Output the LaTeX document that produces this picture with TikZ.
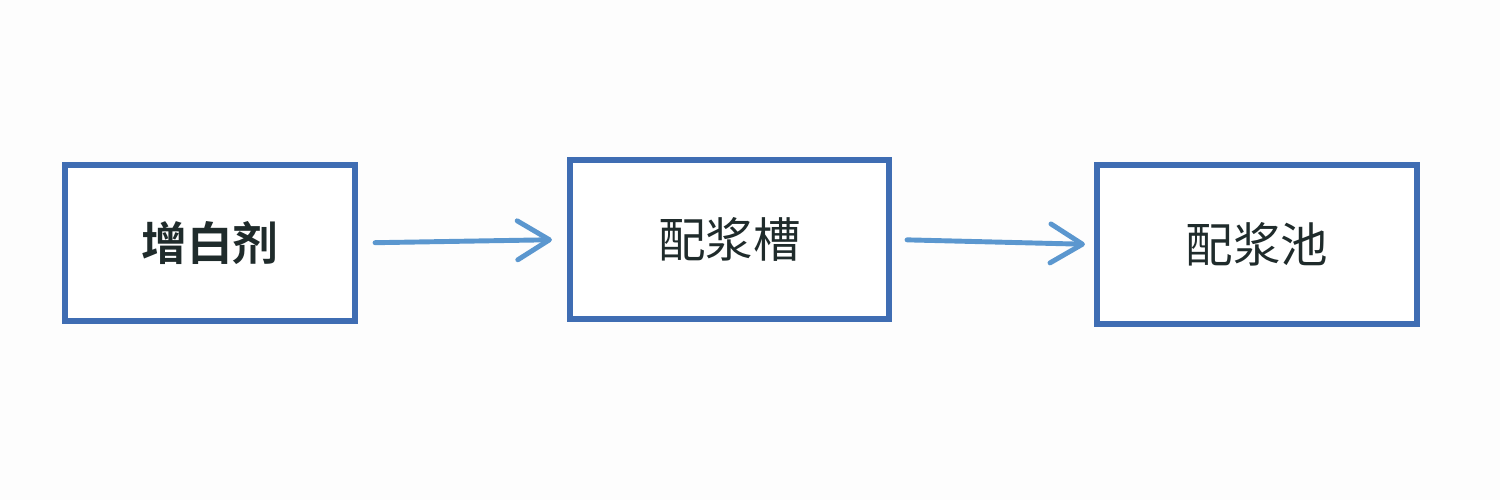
\documentclass[tikz,border=0pt]{standalone}
\usepackage{fontspec}
\usepackage{tikz}
\usetikzlibrary{arrows.meta}
\newfontfamily\cjk{Noto Sans CJK SC}
\newfontfamily\cjkbold{Noto Sans CJK SC Bold}
\definecolor{Paper}{HTML}{FDFDFD}
\definecolor{BoxBlue}{HTML}{3F6DB3}
\definecolor{FlowBlue}{HTML}{5B97CF}
\definecolor{Ink}{HTML}{1F2B2B}

\begin{document}
\begin{tikzpicture}[
  stagebox/.style={draw=BoxBlue,line width=1.75pt,fill=white,minimum height=1.59cm,text=Ink},
  flow/.style={draw=FlowBlue,line width=1.4pt,line cap=round,-{Straight Barb[length=3.2mm,width=3.9mm,line cap=round,line join=round]}}]
  \fill[Paper] (0,0) rectangle (15,5);
  \useasboundingbox (0,0) rectangle (15,5);

  \node[stagebox,minimum width=2.90cm,minimum height=1.56cm,font=\cjkbold\fontsize{13}{15}\selectfont] (agent) at (2.10,2.57) {增白剂};
  \node[stagebox,minimum width=3.19cm,font=\cjk\fontsize{13.5}{15}\selectfont] (tank) at (7.295,2.605) {配浆槽};
  \node[stagebox,minimum width=3.20cm,font=\cjk\fontsize{13.5}{15}\selectfont] (pool) at (12.57,2.555) {配浆池};

  \draw[flow,shorten <=0.17cm,shorten >=0.15cm] (agent.east) -- (tank.west);
  \draw[flow,shorten <=0.15cm,shorten >=0.09cm] (tank.east) -- (pool.west);
\end{tikzpicture}
\end{document}
